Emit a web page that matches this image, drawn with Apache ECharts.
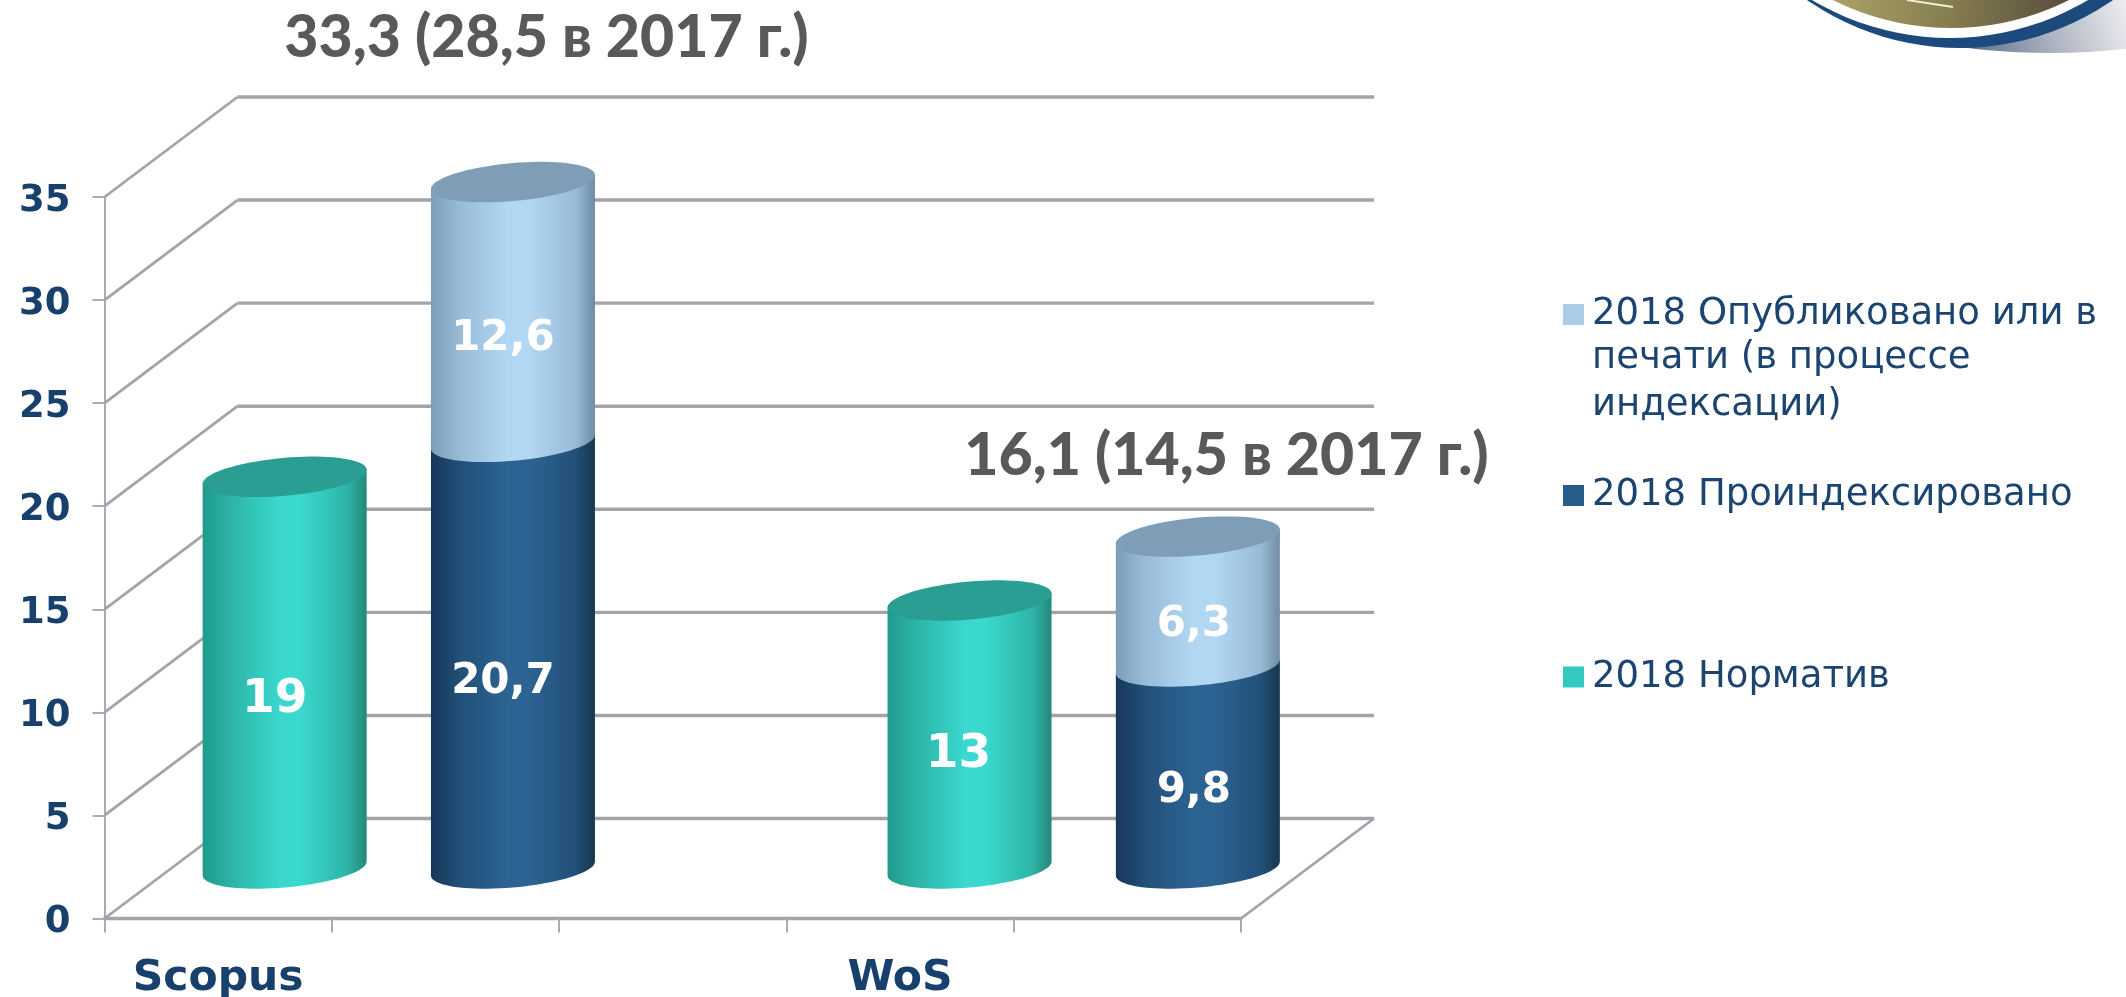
<!DOCTYPE html>
<html><head><meta charset="utf-8">
<style>html,body{margin:0;padding:0;background:#fff}#c{width:2126px;height:997px}</style>
<script src="https://cdn.jsdelivr.net/npm/echarts@6/dist/echarts.min.js"></script>
</head><body><div id="c"></div>
<script>
const categories = ['Scopus', '', '', 'WoS', ''];
const yTicks = [0, 5, 10, 15, 20, 25, 30, 35];
const normValues = [19, null, null, 13, null];
const indexedValues = [null, 20.7, null, null, 9.8];
const publishedValues = [null, 12.6, null, null, 6.3];
const nameNorm = '2018 Норматив';
const nameIndexed = '2018 Проиндексировано';
const namePublished = '2018 Опубликовано или в печати (в процессе индексации)';
const totalTexts = ['33,3 (28,5 в 2017 г.)', '16,1 (14,5 в 2017 г.)'];

const DX = 133, DY = -100, A = 82, B = 19, K = 7;
const BAR_SHIFT = [-1, 0, 0, 2, 3];
const LABEL_SHIFT_X = [-10, -10, 0, -11, -4];
const GRID = '#a3a4a9', AXIS_TEXT = '#17406d', LEG_TEXT = '#1b4570';
const grad = (e, m, c, r) => ({type: 'linear', x: 0, y: 0, x2: 1, y2: 0, colorStops: [
  {offset: 0, color: e}, {offset: .18, color: m}, {offset: .47, color: c}, {offset: .6, color: c},
  {offset: .88, color: m}, {offset: 1, color: r}]});
const STY = {
  teal: {body: grad('#1f9a8c', '#2db5a8', '#3ad8ce', '#26877a'), cap: '#2a9e93'},
  dark: {body: grad('#16375a', '#225078', '#2c6392', '#17374f'), cap: '#2a6090'},
  light: {body: grad('#7d9db7', '#98bcd8', '#b2d7f3', '#6f8ca3'), cap: '#7f9db6'}
};
function cyl(cx, yb, yt, sty, withCap) {
  const arcLow = [], capPts = [];
  for (let i = 0; i <= 40; i++) {
    const t = Math.PI * i / 40;
    arcLow.push([cx + A * Math.cos(t), yb + B * Math.sin(t) - K * Math.cos(t)]);
  }
  for (let i = 0; i < 80; i++) {
    const t = 2 * Math.PI * i / 80;
    capPts.push([cx + A * Math.cos(t), yt + B * Math.sin(t) - K * Math.cos(t)]);
  }
  const body = arcLow.concat([[cx - A, yt + K], [cx + A, yt - K]]);
  const kids = [{type: 'polygon', shape: {points: body}, style: {fill: sty.body}}];
  if (withCap) kids.push({type: 'polygon', shape: {points: capPts}, style: {fill: sty.cap}});
  return kids;
}
function labelDy(i, v) { return v === 13 ? 20 : (i < 3 ? 27 : 24); }
function barRender(styKey, baseValues, withCap) {
  return function (params, api) {
    const i = api.value(0), v = api.value(1);
    const b = baseValues ? baseValues[i] : 0;
    const p0 = api.coord([i, b]), p1 = api.coord([i, b + v]);
    const cx = p0[0] + DX / 2 + 1 + BAR_SHIFT[i], yb = p0[1] + DY / 2, yt = p1[1] + DY / 2;
    const kids = cyl(cx, yb, yt, STY[styKey], withCap);
    kids.push({type: 'text', style: {
      x: cx + LABEL_SHIFT_X[i], y: (yb + yt) / 2 + labelDy(i, v), text: String(v).replace('.', ','),
      fill: '#fff', font: 'bold ' + (Number.isInteger(v) ? 47 : 42) + 'px "DejaVu Sans"',
      textAlign: 'center', textVerticalAlign: 'middle'}});
    return {type: 'group', children: kids};
  };
}
const pairs = vals => vals.map((v, i) => v == null ? null : [i, v]).filter(Boolean);
const wallRender = function (params, api) {
  const v = api.value(0), cs = params.coordSys, y = api.coord([0, v])[1];
  const left = cs.x, right = cs.x + cs.width;
  const kids = [
    {type: 'line', shape: {x1: left, y1: y, x2: left + DX, y2: y + DY}, style: {stroke: GRID, lineWidth: 2.8}},
    {type: 'line', shape: {x1: left + DX, y1: y + DY, x2: right + DX, y2: y + DY}, style: {stroke: GRID, lineWidth: 3.4}}
  ];
  if (v === 0) kids.push({type: 'line', shape: {x1: right, y1: y, x2: right + DX, y2: y + DY}, style: {stroke: GRID, lineWidth: 2.8}});
  return {type: 'group', children: kids};
};
const legendBase = {orient: 'vertical', icon: 'rect', itemWidth: 21, itemHeight: 21, itemGap: 0, left: 1558, selectedMode: false,
  textStyle: {color: LEG_TEXT, fontFamily: 'DejaVu Sans', fontSize: 37, padding: [0, 0, 0, 3]}};
const extraLine = (t, y) => ({type: 'text', style: {x: 1592, y, text: t, fill: LEG_TEXT, font: '37px "DejaVu Sans"', textVerticalAlign: 'middle'}});
const seal = [
  {type: 'ellipse', z: 1, shape: {cx: 2050, cy: -60, rx: 280, ry: 113}, style: {fill: {type: 'linear', global: true, x: 1960, y: 53, x2: 2126, y2: 0, colorStops: [{offset: 0, color: '#55688a'}, {offset: .5, color: '#a9afbd'}, {offset: 1, color: '#eeeef1'}]}}},
  {type: 'circle', z: 3, shape: {cx: 1960, cy: -220, r: 268}, style: {fill: '#1d4a7d'}},
  {type: 'circle', z: 4, shape: {cx: 1950, cy: -232, r: 270}, style: {fill: '#fff'}},
  {type: 'circle', z: 5, shape: {cx: 1951, cy: -235, r: 263}, style: {fill: {type: 'linear', global: true, x: 1840, y: 0, x2: 2060, y2: 20, colorStops: [{offset: 0, color: '#a8a065'}, {offset: .5, color: '#867d50'}, {offset: 1, color: '#5a5040'}]}}},
  {type: 'line', z: 6, shape: {x1: 1907, y1: 0, x2: 1953, y2: 7}, style: {stroke: '#eeeed8', lineWidth: 2}}
];
const option = {
  animation: false, backgroundColor: '#fff',
  grid: {left: 104.5, right: 2126 - 1241, top: 197, bottom: 997 - 918.5, containLabel: false, outerBoundsMode: 'none'},
  xAxis: {type: 'category', data: categories,
    axisLine: {show: true, lineStyle: {color: GRID, width: 3.4}},
    axisTick: {show: true, length: 14, lineStyle: {color: '#a8abb8', width: 2}},
    axisLabel: {interval: 0, margin: 39, color: AXIS_TEXT, fontFamily: 'DejaVu Sans', fontWeight: 'bold', fontSize: 42.5},
    splitLine: {show: false}},
  yAxis: {type: 'value', min: 0, max: 35, interval: 5,
    axisLine: {show: true, lineStyle: {color: '#a8abb8', width: 2}},
    axisTick: {show: true, length: 12, lineStyle: {color: '#a8abb8', width: 2}},
    axisLabel: {margin: 34, formatter: v => '{a|' + v + '}',
      rich: {a: {color: AXIS_TEXT, fontFamily: 'DejaVu Sans', fontWeight: 'bold', fontSize: 37, padding: [8, 0, 0, 0]}}},
    splitLine: {show: false}},
  legend: [
    Object.assign({}, legendBase, {top: 291, data: [{name: namePublished, itemStyle: {color: '#a9cde8'}}],
      formatter: () => '2018 Опубликовано или в'}),
    Object.assign({}, legendBase, {top: 472, data: [{name: nameIndexed, itemStyle: {color: '#265d8a'}}]}),
    Object.assign({}, legendBase, {top: 653.5, data: [{name: nameNorm, itemStyle: {color: '#33c9c0'}}]})
  ],
  graphic: {elements: seal.concat([
    extraLine('печати (в процессе', 358), extraLine('индексации)', 405),
    {type: 'text', style: {x: 546.5, y: 38, text: totalTexts[0], fill: '#595959', font: '900 59px Lato', textAlign: 'center', textVerticalAlign: 'middle'}},
    {type: 'text', style: {x: 1226.5, y: 456, text: totalTexts[1], fill: '#595959', font: '900 59px Lato', textAlign: 'center', textVerticalAlign: 'middle'}, z: 20}
  ])},
  series: [
    {type: 'custom', name: 'walls', silent: true, clip: false, z: 1, data: yTicks.map(v => [v]), renderItem: wallRender, encode: {y: 0}, coordinateSystem: 'cartesian2d'},
    {type: 'custom', name: nameNorm, clip: false, z: 3, itemStyle: {color: '#33c9c0'}, data: pairs(normValues), encode: {x: 0, y: 1}, renderItem: barRender('teal', null, true)},
    {type: 'custom', name: nameIndexed, clip: false, z: 3, itemStyle: {color: '#265d8a'}, data: pairs(indexedValues), encode: {x: 0, y: 1}, renderItem: barRender('dark', null, false)},
    {type: 'custom', name: namePublished, clip: false, z: 4, itemStyle: {color: '#a9cde8'}, data: pairs(publishedValues), encode: {x: 0, y: 1}, renderItem: barRender('light', indexedValues, true)}
  ]
};
const chart = echarts.init(document.getElementById('c'), null, {renderer: 'canvas'});
chart.setOption(option);
</script></body></html>
